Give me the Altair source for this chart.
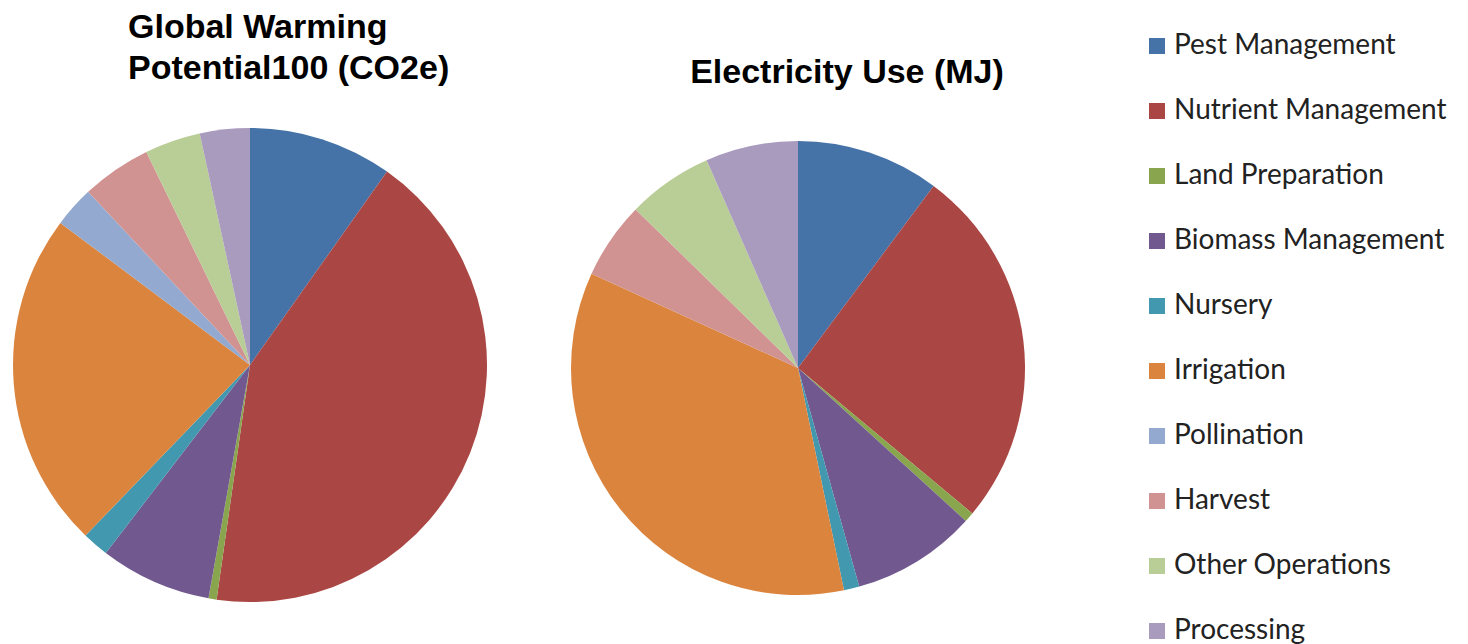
import altair as alt
import pandas as pd

categories = ["Pest Management", "Nutrient Management", "Land Preparation",
              "Biomass Management", "Nursery", "Irrigation", "Pollination",
              "Harvest", "Other Operations", "Processing"]
gwp_values = [9.8, 42.4, 0.55, 7.6, 1.8, 23.0, 2.8, 4.75, 3.8, 3.4]
elec_values = [10.2, 25.9, 0.7, 8.9, 1.1, 35.1, 0.0, 5.5, 6.1, 6.6]
colors = ["#4572A7", "#AA4643", "#89A54E", "#71588F", "#4198AF",
          "#DB843D", "#93A9CF", "#D19392", "#B9CD96", "#A99BBD"]

gwp_df = pd.DataFrame({"category": categories, "value": gwp_values,
                       "order": list(range(len(categories)))})
elec_df = pd.DataFrame({"category": categories, "value": elec_values,
                        "order": list(range(len(categories)))})

color = alt.Color(
    "category:N",
    scale=alt.Scale(domain=categories, range=colors),
    sort=categories,
    legend=alt.Legend(
        title=None, orient="none", legendX=1131, legendY=-95,
        symbolType="square", symbolSize=256, symbolStrokeWidth=0,
        labelFont="Lato", labelFontSize=28, labelColor="#222222",
        labelOffset=3, rowPadding=37, padding=0, labelLimit=400,
    ),
)

title_common = dict(font="Liberation Sans", fontSize=34, fontWeight="bold",
                    color="black", baseline="bottom")

left = alt.Chart(gwp_df, title=alt.TitleParams(
    ["Global Warming", "Potential100 (CO2e)"], anchor="start", dx=116,
    offset=7, lineHeight=41, **title_common)
).mark_arc(radius=237).encode(
    theta=alt.Theta("value:Q", stack=True),
    color=color,
    order=alt.Order("order:Q"),
).properties(width=476, height=476)

right = alt.Chart(elec_df, title=alt.TitleParams(
    "Electricity Use (MJ)", anchor="middle", dx=49, offset=3, **title_common)
).mark_arc(radius=227).encode(
    theta=alt.Theta("value:Q", stack=True),
    color=color,
    order=alt.Order("order:Q"),
).properties(width=450, height=482)

chart = alt.hconcat(left, right, spacing=83).properties(
    padding={"left": 4, "top": 3, "right": 0, "bottom": 0}
).configure_view(stroke=None)

chart.save("out.html", embed_options={"renderer": "svg", "actions": False})
